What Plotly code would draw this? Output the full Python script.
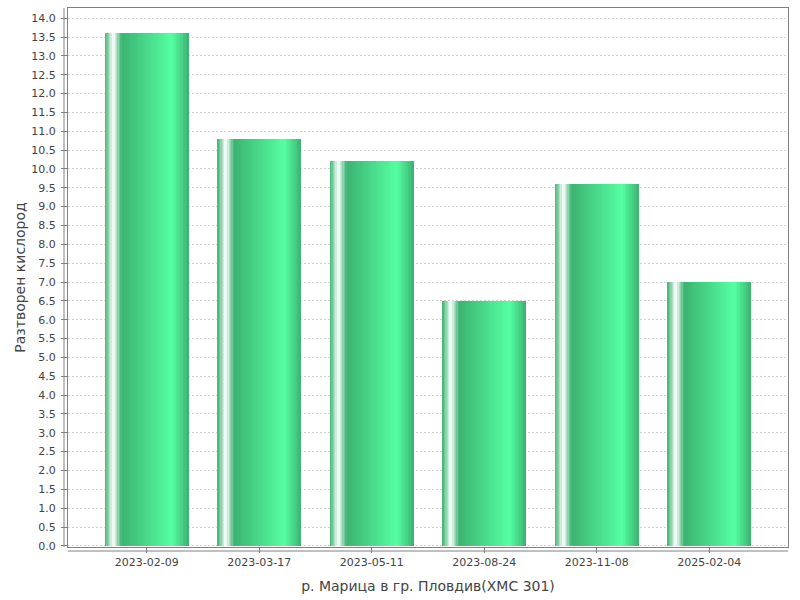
import plotly.graph_objects as go

categories = ["2023-02-09", "2023-03-17", "2023-05-11", "2023-08-24", "2023-11-08", "2025-02-04"]
values = [13.6, 10.8, 10.2, 6.5, 9.6, 7.0]
x_title = "р. Марица в гр. Пловдив(ХМС 301)"
y_title = "Разтворен кислород"

c0 = (60, 179, 113)
c1 = (85, 255, 161)
white = (255, 255, 255)


def lerp(a, b, t):
    return tuple(round(a[k] + (b[k] - a[k]) * t) for k in range(3))


def grad(f):
    if f < 0.10:
        return lerp(c0, white, f / 0.10)
    if f < 0.20:
        return lerp(white, c0, (f - 0.10) / 0.10)
    if f < 0.80:
        return lerp(c0, c1, (f - 0.20) / 0.60)
    return lerp(c1, c0, (f - 0.80) / 0.20)


W = 0.745
N = 60
fig = go.Figure()
for i in range(N):
    start = i * W / N
    col = grad((i + 0.5) / N)
    fig.add_trace(go.Bar(
        x=categories, y=values,
        offset=-W / 2 + start, width=W - start,
        marker=dict(color="rgb(%d,%d,%d)" % col, line=dict(width=0)),
        hoverinfo="skip", showlegend=False,
    ))

font = dict(family="DejaVu Sans", size=11, color="#444444")
tfont = dict(family="DejaVu Sans", size=14, color="#444444")
fig.update_layout(
    width=800, height=600,
    margin=dict(l=68, r=12, t=8, b=53, autoexpand=False),
    plot_bgcolor="white", paper_bgcolor="white",
    barmode="overlay", bargap=0,
    font=font,
    showlegend=False,
    xaxis=dict(
        type="category", range=[-0.7, 5.7], automargin=False,
        showgrid=False, zeroline=False,
        showline=True, mirror=True, linecolor="#808080", linewidth=1,
        ticks="outside", ticklen=5, tickcolor="#808080",
        tickfont=font,
        title=dict(text=x_title, font=tfont, standoff=12),
    ),
    yaxis=dict(
        range=[-0.03, 14.27], dtick=0.5, tick0=0, tickformat=".1f", automargin=False,
        showgrid=True, gridcolor="#d2d2d2", gridwidth=1, griddash="2px,2px",
        zeroline=False,
        showline=True, mirror=True, linecolor="#808080", linewidth=1,
        ticks="outside", ticklen=6, tickcolor="#808080",
        tickfont=font, ticklabelstandoff=3,
        title=dict(text=y_title, font=tfont, standoff=2),
    ),
    shapes=[
        dict(type="line", xref="paper", yref="paper", x0=-4 / 720, x1=-4 / 720, y0=0, y1=1,
             line=dict(color="#808080", width=1)),
        dict(type="line", xref="paper", yref="paper", x0=0, x1=1, y0=-4 / 539, y1=-4 / 539,
             line=dict(color="#808080", width=1)),
    ],
)

fig.write_html(
    "out.html",
    config={"displayModeBar": False},
    post_script="document.body.style.margin='0';document.body.style.overflow='hidden';",
)
